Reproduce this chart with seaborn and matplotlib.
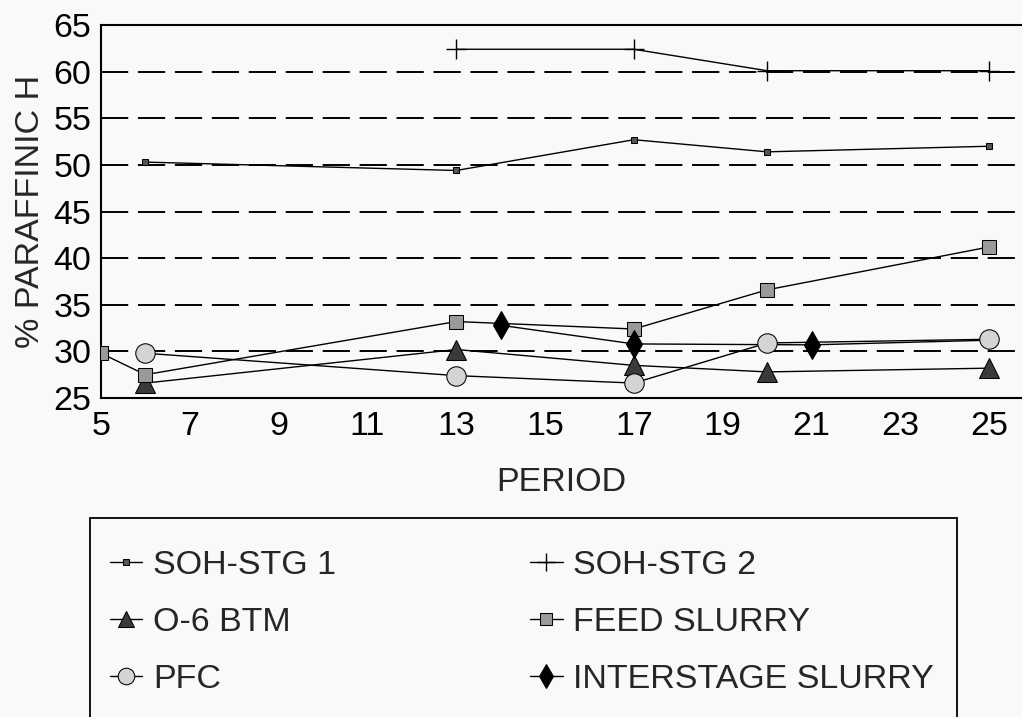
import matplotlib
matplotlib.use("Agg")
import matplotlib.pyplot as plt
from matplotlib.patches import Rectangle
import seaborn as sns
import pandas as pd

# Sample periods and % paraffinic H for each stream
soh1_period = [6, 13, 17, 20, 25]
soh1_value = [50.3, 49.4, 52.7, 51.4, 52.0]

soh2_period = [13, 17, 20, 25]
soh2_value = [62.4, 62.4, 60.1, 60.1]

btm_period = [6, 13, 17, 20, 25]
btm_value = [26.6, 30.2, 28.5, 27.8, 28.2]

feed_period = [5, 6, 13, 17, 20, 25]
feed_value = [29.8, 27.5, 33.2, 32.4, 36.6, 41.2]

inter_period = [14, 17, 21, 25]
inter_value = [32.8, 30.8, 30.7, 31.2]

pfc_period = [6, 13, 17, 20, 25]
pfc_value = [29.8, 27.4, 26.6, 30.9, 31.3]

x_ticks = [5, 7, 9, 11, 13, 15, 17, 19, 21, 23, 25]
y_ticks = [25, 30, 35, 40, 45, 50, 55, 60, 65]

sns.set_style("white")
plt.rcParams["font.family"] = ["Liberation Sans", "DejaVu Sans"]

BG = "#f9f9f9"
FS = 24.5
fig = plt.figure(figsize=(10.22, 7.17), dpi=100, facecolor=BG)
ax = fig.add_axes([0.0988, 0.4449, 0.9012, 0.5202])
ax.set_facecolor(BG)

# dashed reference lines
for yv in y_ticks[1:-1]:
    ax.axhline(yv, color="black", lw=1.4, dashes=(14, 5), zorder=1)

series = [
    ("SOH-STG 1", soh1_period, soh1_value,
     dict(marker="s", markersize=4.5, markerfacecolor="#555555")),
    ("SOH-STG 2", soh2_period, soh2_value,
     dict(marker="+", markersize=15, markeredgewidth=1.0)),
    ("O-6 BTM", btm_period, btm_value,
     dict(marker="^", markersize=14, markerfacecolor="#3a3a3a")),
    ("FEED SLURRY", feed_period, feed_value,
     dict(marker="s", markersize=9.5, markerfacecolor="#9a9a9a")),
    # the last interstage sample sits under the PFC marker at period 25
    ("INTERSTAGE SLURRY", inter_period, inter_value,
     dict(marker="d", markersize=14, markerfacecolor="black",
          markevery=list(range(len(inter_period) - 1)))),
    ("PFC", pfc_period, pfc_value,
     dict(marker="o", markersize=14, markerfacecolor="#d4d4d4")),
]

for i, (name, xs, ys, style) in enumerate(series):
    df = pd.DataFrame({"PERIOD": xs, "value": ys})
    sns.lineplot(data=df, x="PERIOD", y="value", ax=ax, label=name,
                 color="black", lw=1.0, markeredgecolor="black",
                 zorder=3 + i, legend=False, **style)

ax.set_xlim(5, 25.74)
ax.set_ylim(25, 65)
ax.set_xticks(x_ticks)
ax.set_yticks(y_ticks)
ax.tick_params(axis="both", length=0, labelsize=FS, colors="black")
ax.tick_params(axis="x", pad=9)
ax.tick_params(axis="y", pad=7)
ax.set_xlabel("PERIOD", fontsize=FS, labelpad=18)
ax.set_ylabel("% PARAFFINIC H", fontsize=FS, labelpad=5)

for side in ("left", "top", "bottom"):
    ax.spines[side].set_color("black")
    ax.spines[side].set_linewidth(1.5)
ax.spines["right"].set_visible(False)

# legend box, open at the bottom of the figure
fig.patches.append(Rectangle((90 / 1022, -0.05), (957 - 90) / 1022,
                             1.05 - 518 / 717, transform=fig.transFigure,
                             fill=False, edgecolor="black", lw=1.3))

lines = {l.get_label(): l for l in ax.get_lines() if not l.get_label().startswith("_")}
order = ["SOH-STG 1", "O-6 BTM", "PFC", "SOH-STG 2", "FEED SLURRY", "INTERSTAGE SLURRY"]
handles = [lines[n] for n in order]
fig.legend(handles, order, loc="upper left",
           bbox_to_anchor=(110 / 1022, 1 - 550 / 717),
           ncol=2, frameon=False, fontsize=FS, handlelength=0.95,
           handletextpad=0.32, columnspacing=5.7, labelspacing=0.77,
           borderpad=0, borderaxespad=0, markerscale=0.85)

fig.savefig("out.png", dpi=100, facecolor=BG)
